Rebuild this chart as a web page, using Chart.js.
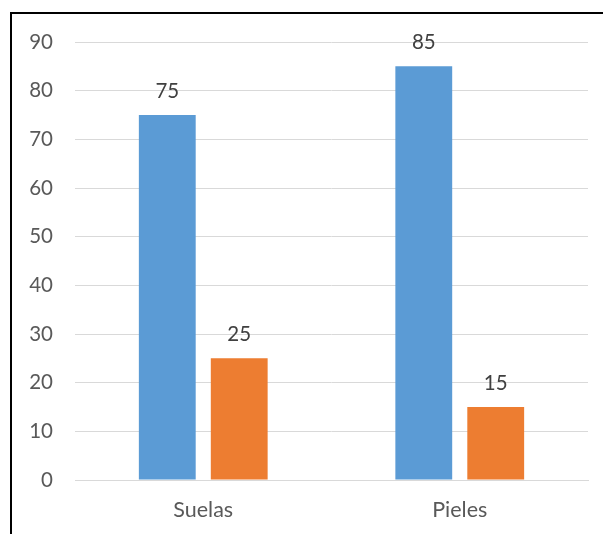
<!DOCTYPE html>
<html>
<head>
<meta charset="utf-8">
<script src="https://cdn.jsdelivr.net/npm/chart.js@4.4.0/dist/chart.umd.min.js"></script>
<style>
  html, body { margin: 0; padding: 0; background: #fff; overflow: hidden; }
  #frame { position: absolute; left: 10px; top: 12px; width: 700px; height: 700px; border: 2px solid #000; box-sizing: border-box; }
  #wrap { position: absolute; left: 0; top: 0; width: 603px; height: 534px; }
</style>
</head>
<body>
<div id="frame"></div>
<div id="wrap"><canvas id="c" width="603" height="534"></canvas></div>
<script>
const categories = ["Suelas", "Pieles"];
const seriesA = [75, 85];
const seriesB = [25, 15];
const yTicks = [0, 10, 20, 30, 40, 50, 60, 70, 80, 90];

const FONT = "Lato, 'Open Sans', sans-serif";

const valueLabels = {
  id: 'valueLabels',
  afterDatasetsDraw(chart) {
    const ctx = chart.ctx;
    ctx.save();
    ctx.font = "20.5px " + FONT;
    ctx.fillStyle = '#404040';
    ctx.textAlign = 'center';
    ctx.textBaseline = 'middle';
    chart.data.datasets.forEach((ds, i) => {
      chart.getDatasetMeta(i).data.forEach((bar, j) => {
        ctx.fillText(String(ds.data[j]), bar.x, bar.y - 24);
      });
    });
    ctx.restore();
  }
};

new Chart(document.getElementById('c'), {
  type: 'bar',
  data: {
    labels: categories,
    datasets: [
      { label: 'A', data: seriesA, backgroundColor: '#5B9BD5', categoryPercentage: 0.561, barPercentage: 0.79 },
      { label: 'B', data: seriesB, backgroundColor: '#ED7D31', categoryPercentage: 0.561, barPercentage: 0.79 }
    ]
  },
  options: {
    responsive: false,
    animation: false,
    layout: { padding: { left: 0, right: 15, top: 42, bottom: 0 } },
    plugins: { legend: { display: false }, tooltip: { enabled: false } },
    scales: {
      x: {
        grid: { display: false, drawTicks: false },
        border: { display: true, color: '#d9d9d9', width: 1 },
        ticks: { color: '#595959', font: { family: FONT, size: 21.5 }, padding: 17 },
        afterFit(s) { s.height = 54; }
      },
      y: {
        min: 0, max: 90,
        afterBuildTicks(s) { s.ticks = yTicks.map(v => ({ value: v })); },
        grid: { color: '#d9d9d9', lineWidth: 1, drawTicks: false },
        border: { display: false },
        ticks: { color: '#595959', font: { family: FONT, size: 20.5 }, padding: 22 },
        afterFit(s) { s.width = 75; }
      }
    }
  },
  plugins: [valueLabels]
});
</script>
</body>
</html>
